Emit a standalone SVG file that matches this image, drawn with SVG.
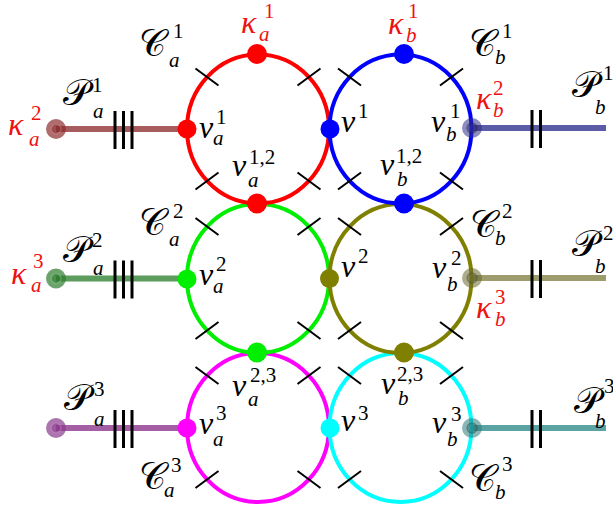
<svg xmlns="http://www.w3.org/2000/svg" width="613" height="509" viewBox="0 0 613 509">
<style>
.cyc{fill:none;stroke-width:4}
.tick{stroke:#000;stroke-width:2;fill:none}
.bar{stroke:#000;stroke-width:3}
.pend{stroke-width:6;fill:none}
text{font-family:"Liberation Serif","DejaVu Serif",serif;font-size:32px}
.lbl{fill:#000}
.red{fill:#ee1111}
.it{font-style:italic}
.sc{font-size:21px}
.cal{font-family:"DejaVu Serif","DejaVu Sans","Noto Sans",serif;font-size:37px;font-style:normal}
</style>
<defs>
<g id="ticks">
<line class="tick" x1="-62.5" y1="-60.5" x2="-39.5" y2="-43.5"/>
<line class="tick" x1="39.5" y1="-43.5" x2="62.5" y2="-60.5"/>
<line class="tick" x1="-62.5" y1="60.5" x2="-39.5" y2="43.5"/>
<line class="tick" x1="39.5" y1="43.5" x2="62.5" y2="60.5"/>
</g>
</defs>
<g id="connectors">
<line class="pend" x1="56" y1="129" x2="187" y2="129" stroke="#a65c5c"/>
<line class="pend" x1="56" y1="278.5" x2="187" y2="278.5" stroke="#5c9c5c"/>
<line class="pend" x1="56" y1="428" x2="187" y2="428" stroke="#a45ea4"/>
<line class="pend" x1="472" y1="128" x2="606" y2="128" stroke="#5c5ca6"/>
<line class="pend" x1="472" y1="278" x2="606" y2="278" stroke="#9c9c6c"/>
<line class="pend" x1="472" y1="428" x2="606" y2="428" stroke="#5ca4a4"/>
<g id="bars">
<line class="bar" x1="115" y1="111" x2="115" y2="149"/><line class="bar" x1="123.5" y1="111" x2="123.5" y2="149"/><line class="bar" x1="132" y1="111" x2="132" y2="149"/>
<line class="bar" x1="115" y1="260.5" x2="115" y2="298.5"/><line class="bar" x1="123.5" y1="260.5" x2="123.5" y2="298.5"/><line class="bar" x1="132" y1="260.5" x2="132" y2="298.5"/>
<line class="bar" x1="115" y1="410" x2="115" y2="448"/><line class="bar" x1="123.5" y1="410" x2="123.5" y2="448"/><line class="bar" x1="132" y1="410" x2="132" y2="448"/>
<line class="bar" x1="532" y1="110" x2="532" y2="148"/><line class="bar" x1="540.5" y1="110" x2="540.5" y2="148"/>
<line class="bar" x1="532" y1="260" x2="532" y2="298"/><line class="bar" x1="540.5" y1="260" x2="540.5" y2="298"/>
<line class="bar" x1="532" y1="410" x2="532" y2="448"/><line class="bar" x1="540.5" y1="410" x2="540.5" y2="448"/>
</g>
</g>
<g id="cycle-a3"><ellipse class="cyc" cx="258" cy="427.5" rx="71" ry="74.5" stroke="#ff00ff"/><use href="#ticks" x="258" y="427.5"/></g>
<g id="cycle-b3"><ellipse class="cyc" cx="400.5" cy="427.5" rx="71" ry="74.5" stroke="#00ffff"/><use href="#ticks" x="400.5" y="427.5"/></g>
<g id="cycle-a2"><ellipse class="cyc" cx="258" cy="278.5" rx="71" ry="74.5" stroke="#00ee00"/><use href="#ticks" x="258" y="278.5"/></g>
<g id="cycle-b2"><ellipse class="cyc" cx="400.5" cy="278.5" rx="71" ry="74.5" stroke="#808000"/><use href="#ticks" x="400.5" y="278.5"/></g>
<g id="cycle-a1"><ellipse class="cyc" cx="258" cy="129" rx="71" ry="74.5" stroke="#ff0000"/><use href="#ticks" x="258" y="129"/></g>
<g id="cycle-b1"><ellipse class="cyc" cx="400.5" cy="129" rx="71" ry="74.5" stroke="#0000ff"/><use href="#ticks" x="400.5" y="129"/></g>

<g id="dots">
<circle cx="257" cy="54" r="10" fill="#ff0000"/>
<circle cx="187" cy="129" r="9.5" fill="#ff0000"/>
<circle cx="257" cy="203.5" r="10" fill="#ff0000"/>
<circle cx="404" cy="54" r="10" fill="#0000ff"/>
<circle cx="330" cy="129" r="9.5" fill="#0000ff"/>
<circle cx="404" cy="203.5" r="10" fill="#0000ff"/>
<circle cx="187" cy="279" r="9.5" fill="#00ee00"/>
<circle cx="257" cy="352.5" r="10" fill="#00ee00"/>
<circle cx="329.5" cy="278.5" r="9.5" fill="#808000"/>
<circle cx="404" cy="352.5" r="10" fill="#808000"/>
<circle cx="187" cy="428" r="9.5" fill="#ff00ff"/>
<circle cx="330" cy="428" r="9.5" fill="#00ffff"/>
</g>
<g id="end-dots">
<g fill="#8b2e2e"><circle cx="56" cy="129" r="10" opacity="0.7"/><circle cx="56" cy="129" r="5" opacity="0.5" stroke="#c88" stroke-width="1.2"/></g>
<g fill="#2e7a2e"><circle cx="56" cy="278.5" r="10" opacity="0.7"/><circle cx="56" cy="278.5" r="5" opacity="0.5" stroke="#8c8" stroke-width="1.2"/></g>
<g fill="#8a3a8a"><circle cx="56" cy="428" r="10" opacity="0.7"/><circle cx="56" cy="428" r="5" opacity="0.5" stroke="#c8c" stroke-width="1.2"/></g>
<g fill="#2e2e8a"><circle cx="472" cy="128" r="10" opacity="0.55"/><circle cx="472" cy="128" r="5" opacity="0.5" stroke="#223" stroke-width="1.2"/></g>
<g fill="#6a6a30"><circle cx="472" cy="278" r="10" opacity="0.55"/><circle cx="472" cy="278" r="5" opacity="0.5" stroke="#443" stroke-width="1.2"/></g>
<g fill="#2e7a7a"><circle cx="472" cy="428" r="10" opacity="0.55"/><circle cx="472" cy="428" r="5" opacity="0.5" stroke="#244" stroke-width="1.2"/></g>
</g>

<g id="labels-kappa" class="red">
<text><tspan class="it" x="241" y="33">κ</tspan><tspan class="sc" x="264" y="18">1</tspan><tspan class="sc it" x="259" y="41">a</tspan></text>
<text><tspan class="it" x="388" y="34">κ</tspan><tspan class="sc" x="408" y="18">1</tspan><tspan class="sc it" x="406" y="42">b</tspan></text>
<text><tspan class="it" x="8" y="135">κ</tspan><tspan class="sc" x="31" y="120">2</tspan><tspan class="sc it" x="29" y="146">a</tspan></text>
<text><tspan class="it" x="476" y="109">κ</tspan><tspan class="sc" x="493" y="95">2</tspan><tspan class="sc it" x="493" y="117">b</tspan></text>
<text><tspan class="it" x="11" y="284">κ</tspan><tspan class="sc" x="33" y="268">3</tspan><tspan class="sc it" x="31" y="292">a</tspan></text>
<text><tspan class="it" x="476" y="318">κ</tspan><tspan class="sc" x="495" y="304">3</tspan><tspan class="sc it" x="495" y="326">b</tspan></text>
</g>
<g id="labels-cycles" class="lbl">
<text><tspan class="cal" x="139" y="56">𝒞</tspan><tspan class="sc" x="173" y="38">1</tspan><tspan class="sc it" x="169" y="67">a</tspan></text>
<text><tspan class="cal" x="469" y="56">𝒞</tspan><tspan class="sc" x="502" y="38">1</tspan><tspan class="sc it" x="495" y="64">b</tspan></text>
<text><tspan class="cal" x="139" y="235">𝒞</tspan><tspan class="sc" x="173" y="218">2</tspan><tspan class="sc it" x="169" y="246">a</tspan></text>
<text><tspan class="cal" x="470" y="237">𝒞</tspan><tspan class="sc" x="502" y="218">2</tspan><tspan class="sc it" x="495" y="245">b</tspan></text>
<text><tspan class="cal" x="139" y="489">𝒞</tspan><tspan class="sc" x="171" y="472">3</tspan><tspan class="sc it" x="164" y="497">a</tspan></text>
<text><tspan class="cal" x="469" y="491">𝒞</tspan><tspan class="sc" x="502" y="471">3</tspan><tspan class="sc it" x="495" y="499">b</tspan></text>
</g>
<g id="labels-paths" class="lbl">
<text><tspan class="cal" x="63" y="105">𝒫</tspan><tspan class="sc" x="92" y="92">1</tspan><tspan class="sc it" x="93" y="118">a</tspan></text>
<text><tspan class="cal" x="63" y="262">𝒫</tspan><tspan class="sc" x="92" y="247">2</tspan><tspan class="sc it" x="93" y="275">a</tspan></text>
<text><tspan class="cal" x="64" y="410">𝒫</tspan><tspan class="sc" x="94" y="396">3</tspan><tspan class="sc it" x="94" y="426">a</tspan></text>
<text><tspan class="cal" x="572" y="97">𝒫</tspan><tspan class="sc" x="603" y="80">1</tspan><tspan class="sc it" x="595" y="114">b</tspan></text>
<text><tspan class="cal" x="572" y="256">𝒫</tspan><tspan class="sc" x="603" y="240">2</tspan><tspan class="sc it" x="595" y="273">b</tspan></text>
<text><tspan class="cal" x="574" y="413">𝒫</tspan><tspan class="sc" x="604" y="393">3</tspan><tspan class="sc it" x="595" y="428">b</tspan></text>
</g>
<g id="labels-vertices" class="lbl">
<text><tspan class="it" x="199" y="138">v</tspan><tspan class="sc" x="216" y="124">1</tspan><tspan class="sc it" x="213" y="145">a</tspan></text>
<text><tspan class="it" x="341" y="132">v</tspan><tspan class="sc" x="358" y="118">1</tspan></text>
<text><tspan class="it" x="431" y="132">v</tspan><tspan class="sc" x="450" y="118">1</tspan><tspan class="sc it" x="446" y="141">b</tspan></text>
<text><tspan class="it" x="232" y="176">v</tspan><tspan class="sc" x="249" y="164">1,2</tspan><tspan class="sc it" x="248" y="187">a</tspan></text>
<text><tspan class="it" x="380" y="175">v</tspan><tspan class="sc" x="396" y="163">1,2</tspan><tspan class="sc it" x="397" y="186">b</tspan></text>
<text><tspan class="it" x="199" y="285">v</tspan><tspan class="sc" x="216" y="271">2</tspan><tspan class="sc it" x="213" y="293">a</tspan></text>
<text><tspan class="it" x="341" y="277">v</tspan><tspan class="sc" x="358" y="263">2</tspan></text>
<text><tspan class="it" x="432" y="278">v</tspan><tspan class="sc" x="451" y="265">2</tspan><tspan class="sc it" x="447" y="291">b</tspan></text>
<text><tspan class="it" x="232" y="396">v</tspan><tspan class="sc" x="250" y="382">2,3</tspan><tspan class="sc it" x="248" y="406">a</tspan></text>
<text><tspan class="it" x="381" y="394">v</tspan><tspan class="sc" x="397" y="381">2,3</tspan><tspan class="sc it" x="398" y="405">b</tspan></text>
<text><tspan class="it" x="199" y="434">v</tspan><tspan class="sc" x="216" y="420">3</tspan><tspan class="sc it" x="213" y="446">a</tspan></text>
<text><tspan class="it" x="341" y="431">v</tspan><tspan class="sc" x="358" y="420">3</tspan></text>
<text><tspan class="it" x="432" y="433">v</tspan><tspan class="sc" x="451" y="421">3</tspan><tspan class="sc it" x="447" y="446">b</tspan></text>
</g>
</svg>
